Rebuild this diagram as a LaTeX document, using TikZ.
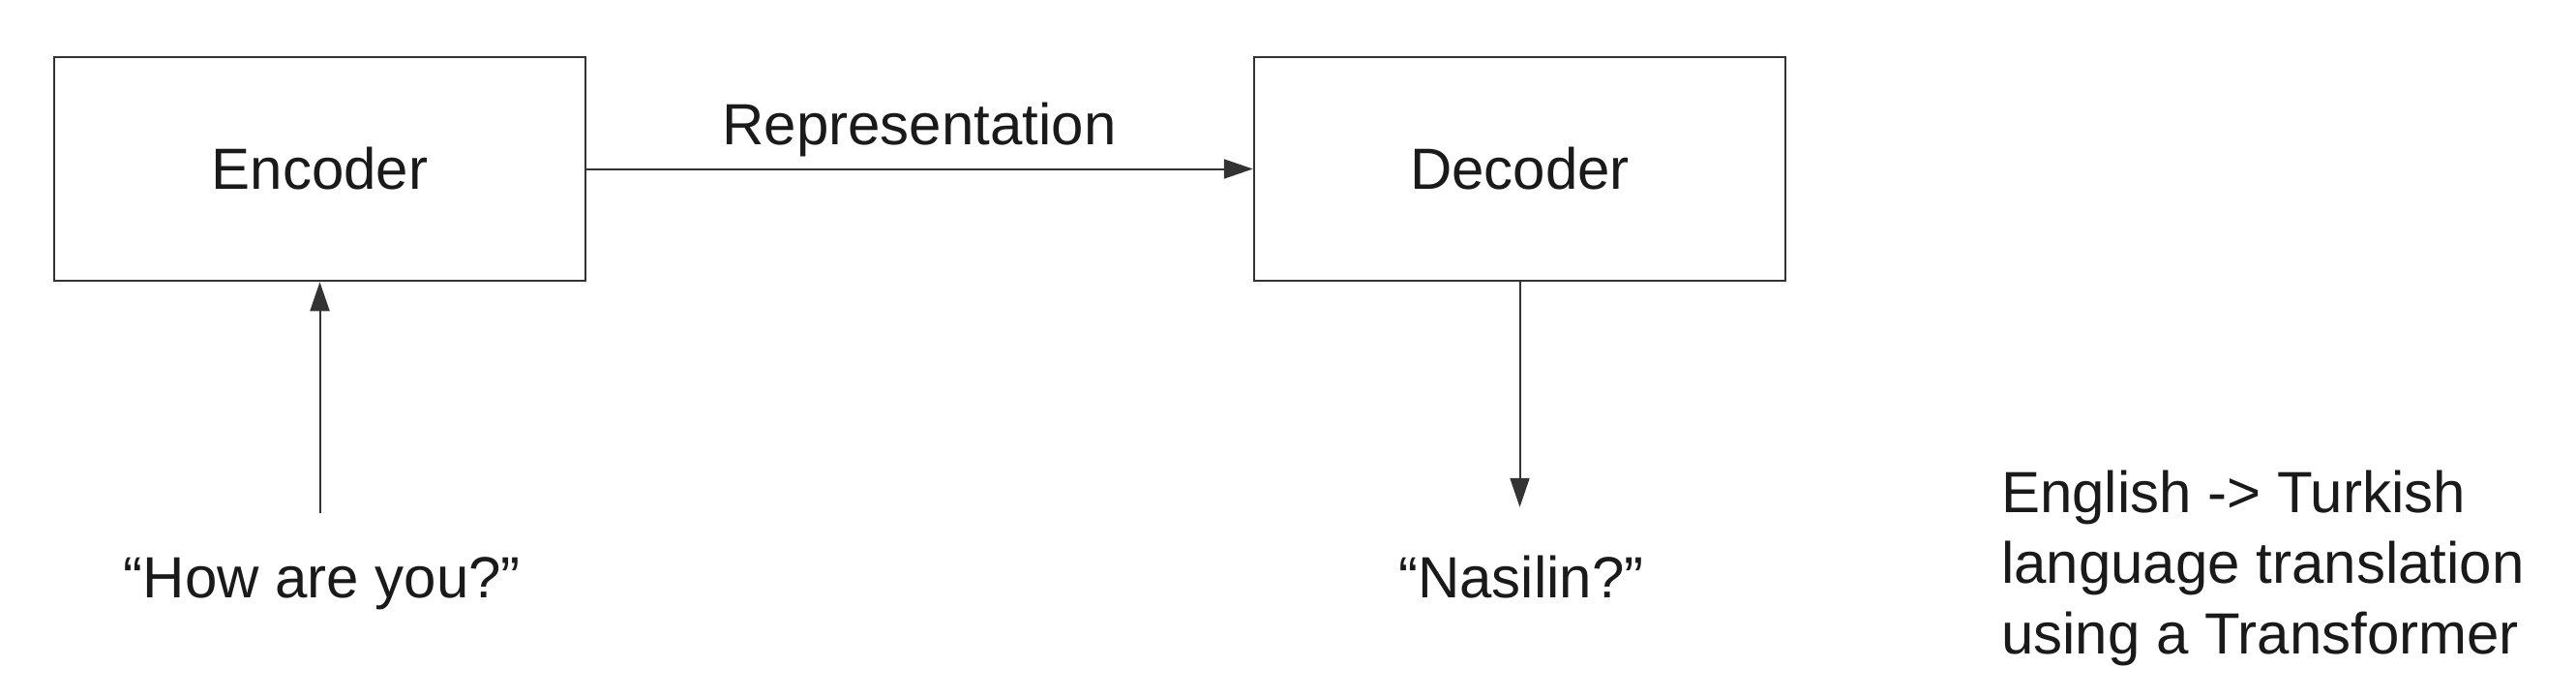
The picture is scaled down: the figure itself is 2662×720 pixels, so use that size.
\documentclass[tikz,border=0pt]{standalone}
\usepackage{fontspec}
\setmainfont{Liberation Sans}
\usetikzlibrary{arrows.meta}
\definecolor{linegray}{HTML}{333333}
\definecolor{textgray}{HTML}{1A1A1A}
\tikzset{
  blockbox/.style={draw=linegray, line width=2.5pt, minimum width=549pt, minimum height=231pt, inner sep=0pt, text=textgray, font=\fontsize{60}{73}\selectfont},
  plainlabel/.style={inner sep=0pt, text=textgray, font=\fontsize{60}{73}\selectfont},
  connector/.style={draw=linegray, line width=2pt, -{Triangle[length=30pt,width=20pt]}}
}
\begin{document}
\begin{tikzpicture}[x=1pt,y=-1pt]
\useasboundingbox[fill=white] (0,0) rectangle (2662,720);
\node[blockbox] (enc) at (330.5,174.5) {Encoder};
\node[blockbox] (dec) at (1570.5,174.5) {Decoder};
\node[plainlabel, anchor=base] (rep) at (950,149) {Representation};
\node[plainlabel, anchor=base] (howare) at (333,617.5) {“How are you?”};
\node[plainlabel, anchor=base] (nasilin) at (1572,617.5) {“Nasilin?”};
\node[plainlabel, anchor=base west, align=left] (note) at (2068,675) {English -> Turkish\\language translation\\using a Transformer};
\draw[connector] (enc.east) -- (dec.west);
\draw[connector, shorten <=45pt] (howare.north -| enc.south) -- (enc.south);
\draw[connector, shorten >=50pt] (dec.south) -- (dec.south |- nasilin.north);
\end{tikzpicture}
\end{document}
